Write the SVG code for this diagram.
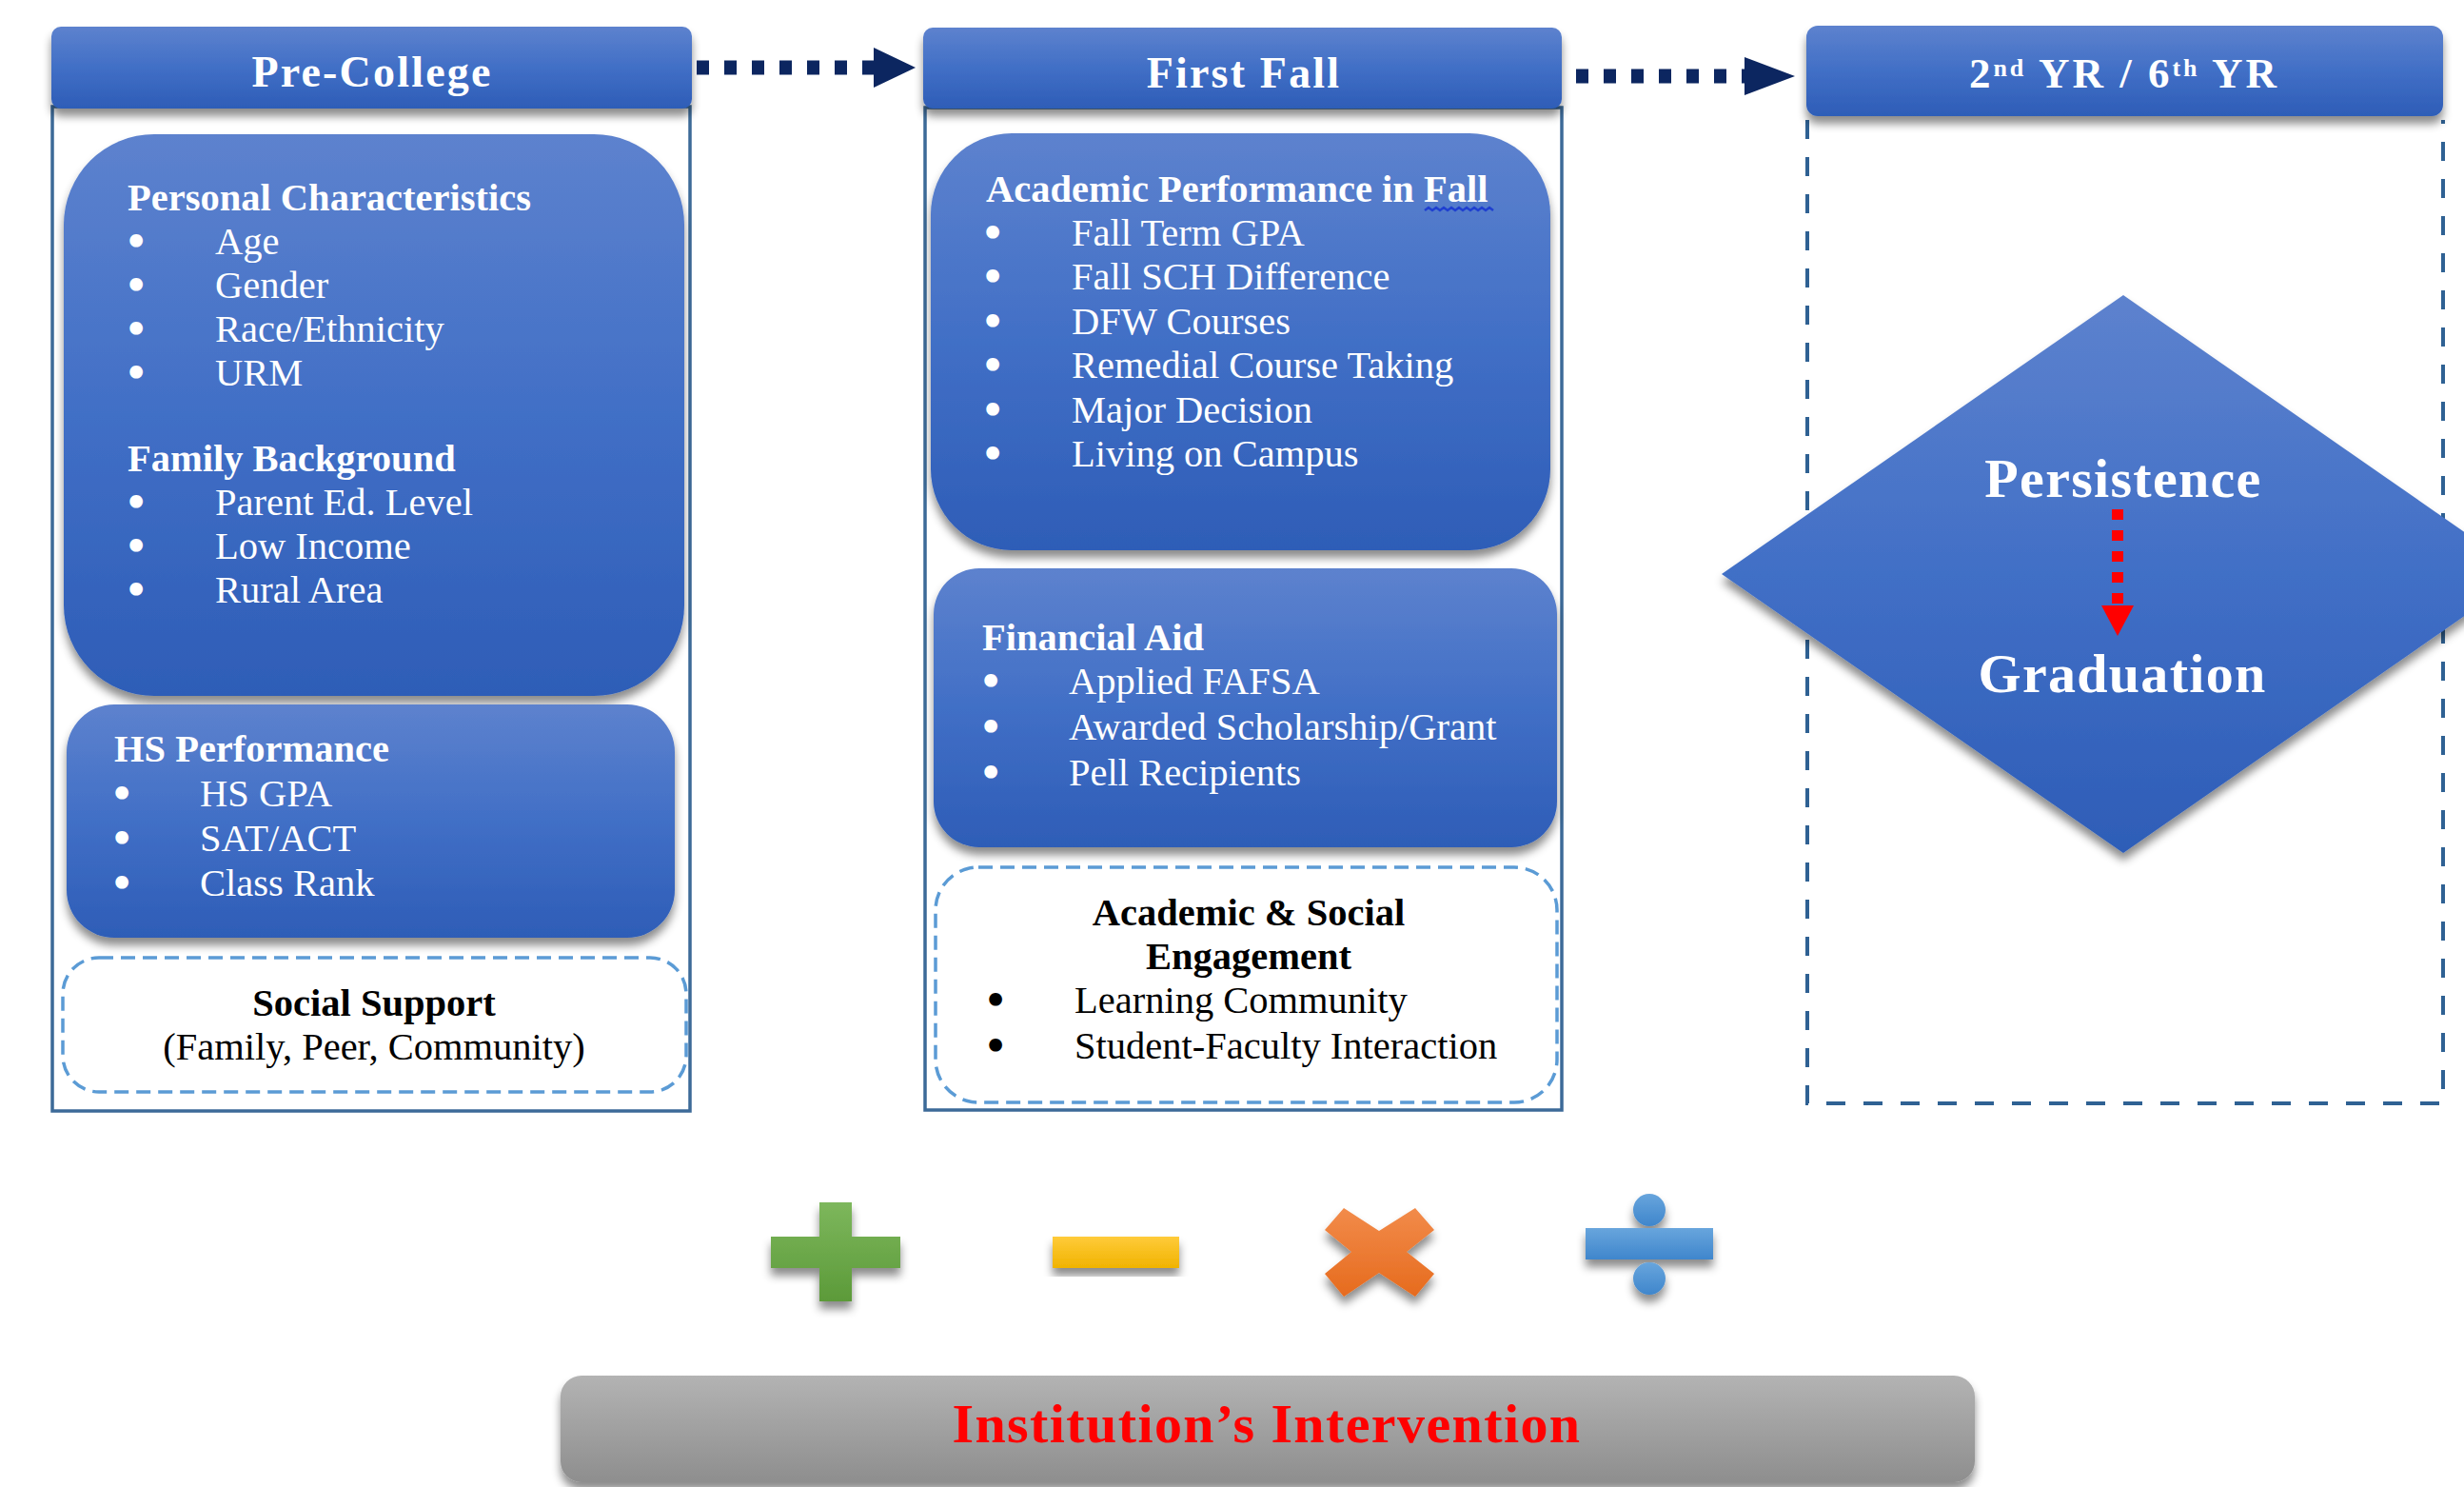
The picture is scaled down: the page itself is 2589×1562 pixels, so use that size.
<svg xmlns="http://www.w3.org/2000/svg" width="2589" height="1562" viewBox="0 0 2589 1562">
<style>
text { font-family: "Liberation Serif", "Times New Roman", serif; }
.hd { font-size: 46px; font-weight: bold; fill: #ffffff; text-anchor: middle; letter-spacing: 2.2px; }
.h { font-size: 40.5px; font-weight: bold; fill: #ffffff; }
.t { font-size: 40.5px; fill: #ffffff; }
.b { font-size: 40.5px; fill: #ffffff; stroke: #ffffff; stroke-width: 4px; }
.bk { font-size: 40.5px; fill: #000000; stroke: #000000; stroke-width: 4px; }
.hk { font-size: 40.5px; font-weight: bold; fill: #000000; text-anchor: middle; }
.tk { font-size: 40.5px; fill: #000000; }
.tkc { font-size: 40.5px; fill: #000000; text-anchor: middle; }
.big { font-size: 58px; font-weight: bold; fill: #ffffff; text-anchor: middle; letter-spacing: 1.3px; }
.outer { fill: #ffffff; stroke: #3C6A98; stroke-width: 3.5; }
.blue { fill: url(#gBlue); filter: url(#sh); }
.dash { fill: #ffffff; stroke: #5B9BD5; stroke-width: 3.5; stroke-dasharray: 15 8; }
.conn { fill: none; stroke: #0C2660; stroke-width: 15; stroke-dasharray: 13 16; }
</style>
<defs>
<linearGradient id="gBlue" x1="0" y1="0" x2="0" y2="1">
<stop offset="0" stop-color="#5D82CE"/>
<stop offset="0.5" stop-color="#416FC6"/>
<stop offset="1" stop-color="#2E5DB7"/>
</linearGradient>
<linearGradient id="gGray" x1="0" y1="0" x2="0" y2="1">
<stop offset="0" stop-color="#B3B3B3"/>
<stop offset="1" stop-color="#8E8E8E"/>
</linearGradient>
<linearGradient id="gGreen" x1="0" y1="0" x2="0" y2="1">
<stop offset="0" stop-color="#7DB75C"/>
<stop offset="1" stop-color="#5C9A39"/>
</linearGradient>
<linearGradient id="gYellow" x1="0" y1="0" x2="0" y2="1">
<stop offset="0" stop-color="#FFCB3A"/>
<stop offset="1" stop-color="#F0B300"/>
</linearGradient>
<linearGradient id="gOrange" x1="0" y1="0" x2="0" y2="1">
<stop offset="0" stop-color="#F28B4A"/>
<stop offset="1" stop-color="#E66B1E"/>
</linearGradient>
<linearGradient id="gSky" x1="0" y1="0" x2="0" y2="1">
<stop offset="0" stop-color="#68A5DD"/>
<stop offset="1" stop-color="#3F86CC"/>
</linearGradient>
<filter id="sh" x="-10%" y="-10%" width="120%" height="135%">
<feDropShadow dx="0" dy="8" stdDeviation="5" flood-color="#000000" flood-opacity="0.45"/>
</filter>
<marker id="navyHead" markerUnits="userSpaceOnUse" markerWidth="46" markerHeight="42" refX="0" refY="21" orient="auto">
<path d="M0,0 L44,21 L0,42 Z" fill="#0C2660"/>
</marker>
<marker id="navyHead2" markerUnits="userSpaceOnUse" markerWidth="55" markerHeight="40" refX="0" refY="20" orient="auto">
<path d="M0,0 L53,20 L0,40 Z" fill="#0C2660"/>
</marker>
<marker id="redHead" markerUnits="userSpaceOnUse" markerWidth="34" markerHeight="34" refX="0" refY="17" orient="auto">
<path d="M0,0 L32,17 L0,34 Z" fill="#FF0000"/>
</marker>
</defs>

<rect width="2589" height="1562" fill="#ffffff"/>

<!-- Pre-College column -->
<g id="precollege-box">
<rect class="outer" x="55" y="112" width="670" height="1055"/>
</g>
<g id="precollege-header">
<rect x="54" y="28" width="673" height="86" rx="10" fill="url(#gBlue)" filter="url(#sh)"/>
<text class="hd" x="391" y="91">Pre-College</text>
</g>
<g id="personal-family">
<rect class="blue" x="67" y="141" width="652" height="590" rx="95"/>
<text class="h" x="134" y="221">Personal Characteristics</text>
<text class="b" x="136" y="267">•</text><text class="t" x="226" y="267">Age</text>
<text class="b" x="136" y="313">•</text><text class="t" x="226" y="313">Gender</text>
<text class="b" x="136" y="359">•</text><text class="t" x="226" y="359">Race/Ethnicity</text>
<text class="b" x="136" y="405">•</text><text class="t" x="226" y="405">URM</text>
<text class="h" x="134" y="495">Family Background</text>
<text class="b" x="136" y="541">•</text><text class="t" x="226" y="541">Parent Ed. Level</text>
<text class="b" x="136" y="587">•</text><text class="t" x="226" y="587">Low Income</text>
<text class="b" x="136" y="633">•</text><text class="t" x="226" y="633">Rural Area</text>
</g>
<g id="hs-performance">
<rect class="blue" x="70" y="740" width="639" height="245" rx="50"/>
<text class="h" x="120" y="800">HS Performance</text>
<text class="b" x="121" y="847">•</text><text class="t" x="210" y="847">HS GPA</text>
<text class="b" x="121" y="894">•</text><text class="t" x="210" y="894">SAT/ACT</text>
<text class="b" x="121" y="941">•</text><text class="t" x="210" y="941">Class Rank</text>
</g>
<g id="social-support">
<rect class="dash" x="66" y="1006" width="655" height="141" rx="38"/>
<text class="hk" x="393" y="1067">Social Support</text>
<text class="tkc" x="393" y="1113">(Family, Peer, Community)</text>
</g>

<!-- First Fall column -->
<g id="firstfall-box">
<rect class="outer" x="972" y="113" width="669" height="1053"/>
</g>
<g id="firstfall-header">
<rect x="970" y="29" width="671" height="85" rx="10" fill="url(#gBlue)" filter="url(#sh)"/>
<text class="hd" x="1307" y="92">First Fall</text>
</g>
<g id="academic-performance">
<rect class="blue" x="978" y="140" width="651" height="438" rx="85"/>
<text class="h" x="1036" y="212">Academic Performance in Fall</text>
<path d="M1497,221 l4,-3 l4,3 l4,-3 l4,3 l4,-3 l4,3 l4,-3 l4,3 l4,-3 l4,3 l4,-3 l4,3 l4,-3 l4,3 l4,-3 l4,3 l4,-3 l4,3" fill="none" stroke="#1F3FD0" stroke-width="2.5"/>
<text class="b" x="1036" y="258">•</text><text class="t" x="1126" y="258">Fall Term GPA</text>
<text class="b" x="1036" y="304">•</text><text class="t" x="1126" y="304">Fall SCH Difference</text>
<text class="b" x="1036" y="351">•</text><text class="t" x="1126" y="351">DFW Courses</text>
<text class="b" x="1036" y="397">•</text><text class="t" x="1126" y="397">Remedial Course Taking</text>
<text class="b" x="1036" y="444">•</text><text class="t" x="1126" y="444">Major Decision</text>
<text class="b" x="1036" y="490">•</text><text class="t" x="1126" y="490">Living on Campus</text>
</g>
<g id="financial-aid">
<rect class="blue" x="981" y="597" width="655" height="293" rx="48"/>
<text class="h" x="1032" y="683">Financial Aid</text>
<text class="b" x="1034" y="729">•</text><text class="t" x="1123" y="729">Applied FAFSA</text>
<text class="b" x="1034" y="777">•</text><text class="t" x="1123" y="777">Awarded Scholarship/Grant</text>
<text class="b" x="1034" y="825">•</text><text class="t" x="1123" y="825">Pell Recipients</text>
</g>
<g id="engagement">
<rect class="dash" x="983" y="911" width="653" height="247" rx="45"/>
<text class="hk" x="1312" y="972">Academic &amp; Social</text>
<text class="hk" x="1312" y="1018">Engagement</text>
<text class="bk" x="1039" y="1064">•</text><text class="tk" x="1129" y="1064">Learning Community</text>
<text class="bk" x="1039" y="1112">•</text><text class="tk" x="1129" y="1112">Student-Faculty Interaction</text>
</g>

<!-- 2nd YR / 6th YR column -->
<g id="year-box">
<path d="M1899,126 V1159 H2567 V126" fill="none" stroke="#2F6193" stroke-width="4" stroke-dasharray="20 19"/>
</g>
<g id="outcome">
<polygon points="2231,310 2653,603 2231,896 1809,603" fill="url(#gBlue)" filter="url(#sh)"/>
<text class="big" x="2231" y="522">Persistence</text>
<text class="big" x="2230" y="727">Graduation</text>
</g>
<g id="year-header">
<rect x="1898" y="27" width="669" height="95" rx="12" fill="url(#gBlue)" filter="url(#sh)"/>
<text x="2232" y="92" style="font-size:45px;font-weight:bold;fill:#ffffff;text-anchor:middle;letter-spacing:3px">2<tspan style="font-size:26px" dy="-12">nd</tspan><tspan dy="12"> YR / 6</tspan><tspan style="font-size:26px" dy="-12">th</tspan><tspan dy="12"> YR</tspan></text>
</g>

<!-- Connectors -->
<g id="connectors">
<line class="conn" x1="732" y1="71" x2="918" y2="71" marker-end="url(#navyHead)"/>
<line class="conn" x1="1656" y1="80" x2="1833" y2="80" marker-end="url(#navyHead2)"/>
<line x1="2225" y1="535" x2="2225" y2="636" stroke="#FF0000" stroke-width="12" stroke-dasharray="11 11" marker-end="url(#redHead)"/>
</g>

<!-- Operation symbols -->
<g id="plus" filter="url(#sh)">
<path d="M861,1263 H895 V1299 H946 V1332 H895 V1367 H861 V1332 H810 V1299 H861 Z" fill="url(#gGreen)"/>
</g>
<g id="minus" filter="url(#sh)">
<rect x="1106" y="1299" width="133" height="33" fill="url(#gYellow)"/>
</g>
<g id="multiply" filter="url(#sh)">
<polygon points="1412,1269 1449,1293 1487,1269 1507,1292 1478,1315 1507,1338 1487,1362 1449,1337 1412,1362 1392,1338 1420,1315 1392,1292" fill="url(#gOrange)"/>
</g>
<g id="divide" filter="url(#sh)">
<circle cx="1733" cy="1271" r="17" fill="url(#gSky)"/>
<rect x="1666" y="1290" width="134" height="33" fill="url(#gSky)"/>
<circle cx="1733" cy="1343" r="17" fill="url(#gSky)"/>
</g>

<!-- Institution's Intervention -->
<g id="intervention">
<rect x="589" y="1445" width="1486" height="112" rx="22" fill="url(#gGray)" filter="url(#sh)"/>
<text x="1331" y="1515" style="font-size:58px;font-weight:bold;fill:#FF0000;text-anchor:middle;letter-spacing:1.4px">Institution’s Intervention</text>
</g>
</svg>
